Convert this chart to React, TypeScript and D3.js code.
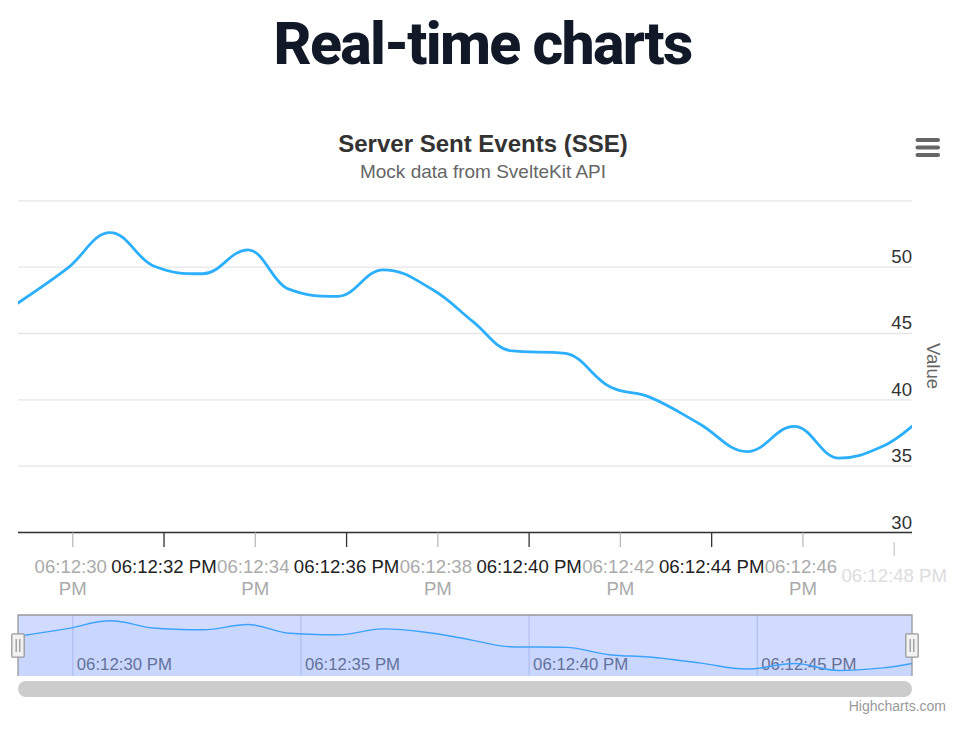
import React from "react";
import * as d3 from "d3";

// ---- data ----
const PAGE_TITLE = "Real-time charts";
const CHART_TITLE = "Server Sent Events (SSE)";
const CHART_SUBTITLE = "Mock data from SvelteKit API";
const Y_TITLE = "Value";
const CREDITS = "Highcharts.com";

// seconds after 06:12:00 PM
const TIMES = [28.8, 29.88, 30.82, 31.76, 32.85, 33.84, 34.69, 35.81, 36.8, 37.89, 38.77, 39.58, 40.8, 41.76, 42.64, 43.73, 44.78, 45.81, 46.79, 47.75, 48.39];
const VALUES = [47.3, 49.9, 52.6, 50.1, 49.5, 51.3, 48.4, 47.8, 49.8, 48.3, 45.9, 43.7, 43.5, 41.0, 40.2, 38.2, 36.1, 38.0, 35.6, 36.5, 38.0];
const Y_TICKS = [30, 35, 40, 45, 50, 55];
const Y_DOMAIN = [30, 55];

const FONT = "'Liberation Sans', Arial, Helvetica, sans-serif";
const SERIES_COLOR = "#2caffe";

type P = [number, number];

// Highcharts-style spline
function hcSpline(pts: P[]): string {
  const sm = 1.5, den = 2.5;
  const ctrl = pts.map((p, i) => {
    const prev = pts[i - 1], next = pts[i + 1];
    if (!prev || !next) return null;
    const [px, py] = p;
    const lcx = (sm * px + prev[0]) / den;
    let lcy = (sm * py + prev[1]) / den;
    const rcx = (sm * px + next[0]) / den;
    let rcy = (sm * py + next[1]) / den;
    if (rcx !== lcx) {
      const corr = ((rcy - lcy) * (rcx - px)) / (rcx - lcx) + py - rcy;
      lcy += corr;
      rcy += corr;
    }
    if (lcy > prev[1] && lcy > py) {
      lcy = Math.max(prev[1], py);
      rcy = 2 * py - lcy;
    } else if (lcy < prev[1] && lcy < py) {
      lcy = Math.min(prev[1], py);
      rcy = 2 * py - lcy;
    }
    if (rcy > next[1] && rcy > py) {
      rcy = Math.max(next[1], py);
      lcy = 2 * py - rcy;
    } else if (rcy < next[1] && rcy < py) {
      rcy = Math.min(next[1], py);
      lcy = 2 * py - rcy;
    }
    return { lcx, lcy, rcx, rcy };
  });
  const path = d3.path();
  pts.forEach((p, i) => {
    if (i === 0) {
      path.moveTo(p[0], p[1]);
      return;
    }
    const lp = pts[i - 1];
    const lc = ctrl[i - 1];
    const c = ctrl[i];
    path.bezierCurveTo(
      lc ? lc.rcx : lp[0],
      lc ? lc.rcy : lp[1],
      c ? c.lcx : p[0],
      c ? c.lcy : p[1],
      p[0],
      p[1]
    );
  });
  return path.toString();
}

export default function App() {
  const W = 965, H = 738;
  const plotL = 18, plotR = 912, plotT = 200.8, plotB = 532.5;
  const navT = 615, navB = 676;

  const toDate = (s: number) => new Date(2024, 0, 1, 18, 12, 0, Math.round(s * 1000));
  const data = TIMES.map((t, i) => ({ date: toDate(t), value: VALUES[i] }));

  const x = d3
    .scaleTime()
    .domain(d3.extent(data, (d) => d.date) as [Date, Date])
    .range([plotL, plotR]);
  const y = d3.scaleLinear().domain(Y_DOMAIN).range([plotB, plotT]);
  const yNav = d3
    .scaleLinear()
    .domain(d3.extent(VALUES) as [number, number])
    .range([670.5, 620.7]);

  const fmt = d3.timeFormat("%I:%M:%S %p");
  const mainTicks = x.ticks(d3.timeSecond.every(2) as any);
  const navTicks = x.ticks(d3.timeSecond.every(5) as any);

  const mainPts: P[] = data.map((d) => [x(d.date), y(d.value)]);
  const navPts: P[] = data.map((d) => [x(d.date), yNav(d.value)]);
  const mainPath = hcSpline(mainPts);
  const navPath = hcSpline(navPts);
  const navArea = navPath + `L${navPts[navPts.length - 1][0]},${navB}L${navPts[0][0]},${navB}Z`;

  const handle = (cx: number) => {
    const cy = (navT + navB) / 2;
    return (
      <g key={cx}>
        <rect x={cx - 6.2} y={cy - 11.7} width={12.4} height={23.4} fill="#f2f2f2" stroke="#999" strokeWidth={1.3} rx={1} />
        <line x1={cx - 1.8} x2={cx - 1.8} y1={cy - 6.5} y2={cy + 6.5} stroke="#999" strokeWidth={1.3} />
        <line x1={cx + 1.8} x2={cx + 1.8} y1={cy - 6.5} y2={cy + 6.5} stroke="#999" strokeWidth={1.3} />
      </g>
    );
  };

  return (
    <svg
      width={W}
      height={H}
      style={{ position: "absolute", left: 0, top: 0, background: "#fff" }}
      fontFamily={FONT}
    >
      <defs>
        <clipPath id="plotClip">
          <rect x={plotL} y={plotT - 10} width={plotR - plotL} height={plotB - plotT + 10} />
        </clipPath>
      </defs>

      {/* page title */}
      <text
        x={482.5}
        y={64}
        textAnchor="middle"
        fontFamily="Roboto, 'Noto Sans', sans-serif"
        fontWeight={800}
        fontSize={59}
        letterSpacing={-1.7}
        fill="#111827"
      >
        {PAGE_TITLE}
      </text>

      {/* chart title/subtitle */}
      <text x={483} y={152} textAnchor="middle" fontWeight="bold" fontSize={24} fill="#333333">
        {CHART_TITLE}
      </text>
      <text x={483} y={178} textAnchor="middle" fontSize={19} fill="#666666">
        {CHART_SUBTITLE}
      </text>

      {/* menu icon */}
      <g stroke="#666666" strokeWidth={4} strokeLinecap="round">
        {[140, 147.5, 155].map((yy) => (
          <line key={yy} x1={917.5} x2={938} y1={yy} y2={yy} />
        ))}
      </g>

      {/* gridlines */}
      {Y_TICKS.map((t) => (
        <line key={t} x1={plotL} x2={plotR} y1={y(t)} y2={y(t)} stroke="#e6e6e6" strokeWidth={1.3} />
      ))}
      {/* y labels */}
      {Y_TICKS.filter((t) => t < Y_DOMAIN[1]).map((t) => (
        <text key={t} x={912} y={y(t) - 4} textAnchor="end" fontSize={18.6} fill="#333333">
          {t}
        </text>
      ))}
      <text
        transform={`translate(927,366) rotate(90)`}
        textAnchor="middle"
        fontSize={18.6}
        fill="#666666"
      >
        {Y_TITLE}
      </text>

      {/* series */}
      <path d={mainPath} fill="none" stroke={SERIES_COLOR} strokeWidth={2.8} strokeLinejoin="round" strokeLinecap="round" clipPath="url(#plotClip)" />

      {/* x axis */}
      <line x1={plotL} x2={plotR} y1={plotB} y2={plotB} stroke="#333333" strokeWidth={1.4} />
      {mainTicks.map((t, i) => {
        const xx = x(t);
        const sec = t.getSeconds();
        const last = i === mainTicks.length - 1;
        const label = fmt(t);
        if (last) {
          return (
            <g key={i}>
              <line x1={xx} x2={xx} y1={542} y2={556} stroke="#cccccc" strokeWidth={1.3} />
              <text x={xx} y={582} textAnchor="middle" fontSize={18.6} fill="#dddddd">
                {label}
              </text>
            </g>
          );
        }
        if (sec % 4 === 2) {
          const [a, b] = [label.slice(0, 8), label.slice(9)];
          return (
            <g key={i}>
              <line x1={xx} x2={xx} y1={plotB} y2={547} stroke="#bbbbbb" strokeWidth={1.3} />
              <text x={xx} y={572.5} textAnchor="middle" fontSize={18.6} fill="#aaaaaa">
                <tspan x={xx - 2}>{a}</tspan>
                <tspan x={xx} dy={22}>
                  {b}
                </tspan>
              </text>
            </g>
          );
        }
        return (
          <g key={i}>
            <line x1={xx} x2={xx} y1={plotB} y2={547} stroke="#333333" strokeWidth={1.3} />
            <text x={xx} y={572.5} textAnchor="middle" fontSize={18.6} fill="#222222">
              {label}
            </text>
          </g>
        );
      })}

      {/* navigator */}
      <rect x={plotL} y={navT} width={plotR - plotL} height={navB - navT} fill="#ffffff" />
      {navTicks.map((t, i) => (
        <line key={i} x1={x(t)} x2={x(t)} y1={navT} y2={navB} stroke="#d6dae8" strokeWidth={1.2} />
      ))}
      {navTicks.map((t, i) => (
        <text key={"l" + i} x={x(t) + 4} y={670} fontSize={16.8} fill="#666666">
          {fmt(t)}
        </text>
      ))}
      <path d={navArea} fill={SERIES_COLOR} fillOpacity={0.05} stroke="none" />
      <path d={navPath} fill="none" stroke={SERIES_COLOR} strokeWidth={1.4} />
      <rect x={plotL} y={navT} width={plotR - plotL} height={navB - navT} fill="rgba(102,133,255,0.3)" />
      <path
        d={`M${plotL},${navB}L${plotL},${navT}L${plotR},${navT}L${plotR},${navB}`}
        fill="none"
        stroke="#999999"
        strokeWidth={1.3}
      />
      {handle(plotL)}
      {handle(plotR)}

      {/* scrollbar */}
      <rect x={plotL} y={681} width={plotR - plotL} height={16} rx={8} fill="#cccccc" />

      {/* credits */}
      <text x={946} y={711} textAnchor="end" fontSize={14} fill="#999999">
        {CREDITS}
      </text>
    </svg>
  );
}
